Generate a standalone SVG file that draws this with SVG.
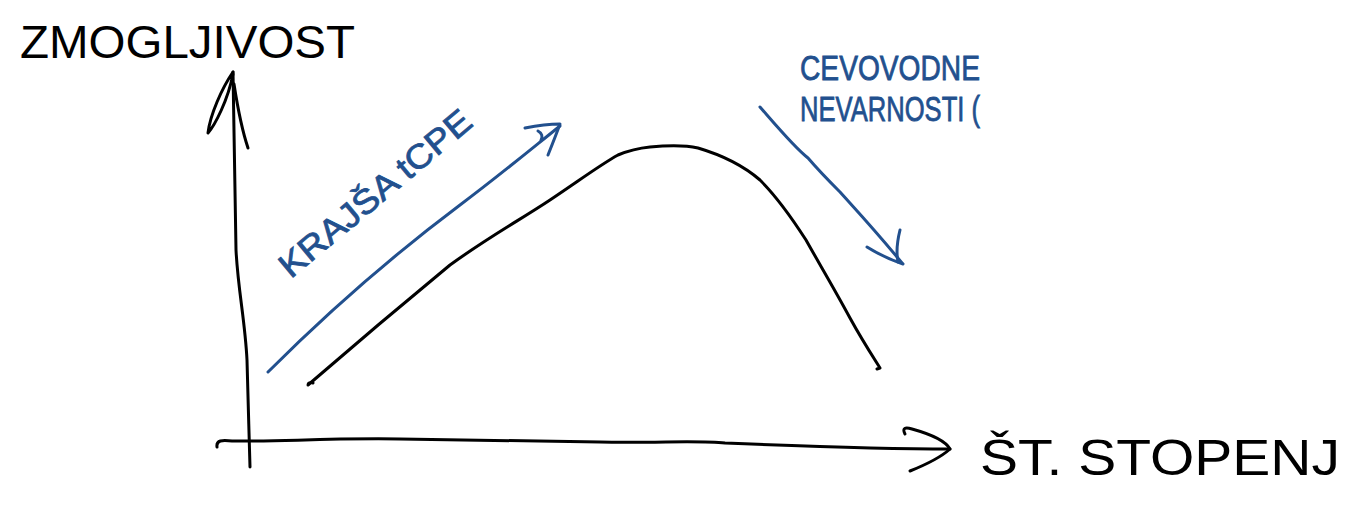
<svg xmlns="http://www.w3.org/2000/svg" width="1360" height="510" viewBox="0 0 1360 510">
<style>
.ink{fill:none;stroke:#000;stroke-width:3;stroke-linecap:round;stroke-linejoin:round}
.blue{fill:none;stroke:#22508e;stroke-width:3;stroke-linecap:round;stroke-linejoin:round}
.tb{font-family:"Liberation Sans",Arial,sans-serif;fill:#000}
.tblue{font-family:"Liberation Sans",Arial,sans-serif;fill:#22508e;stroke:#22508e;stroke-width:0.8}
</style>
<rect width="1360" height="510" fill="#fff"/>
<g id="connectors">
<g id="y-axis">
<path class="ink" d="M250,467 C249,430 248,400 247,360 C245,320 238,290 236,250 C235,200 234,140 233,72"/>
<path class="ink" d="M233,72 C222,88 210,115 208,133 C215,125 228,100 233,74"/>
<path class="ink" d="M234,84 C238,110 242,130 248,148"/>
</g>
<g id="x-axis">
<path class="ink" d="M217,447 C216,440 222,440 232,441 C280,442 320,438 400,439 C500,441 560,441 600,442 C660,443 700,440 725,443 C800,446 880,449 950,449"/>
<path class="ink" d="M905,434 C902,428 905,427 912,429 C930,434 945,440 950,449 C940,458 925,465 910,471"/>
</g>
<g id="curve">
<path class="ink" d="M313,383 C310,382 308,383 308,385 C360,340 410,298 450,265 C490,236 520,220 550,200 C580,180 600,165 618,155 C630,150 640,148 650,147 C670,145 685,145 698,148 C725,156 745,167 760,180 C775,195 790,215 806,240 C820,265 835,290 850,318 C862,340 875,360 880,368 L877,369"/>
</g>
<g id="arrow-left">
<path class="blue" d="M268,372 C330,310 400,250 460,205 C500,175 530,150 560,126"/>
<path class="blue" d="M525,128 C535,126 548,124 560,124 C556,135 552,145 548,155"/>
<path class="blue" d="M538,131 C542,133 543,137 541,140"/>
</g>
<g id="arrow-right">
<path class="blue" d="M760,107 C780,130 795,148 808,158 C820,172 830,182 840,192 C858,212 875,230 902,263"/>
<path class="blue" d="M867,247 C875,252 885,258 903,264"/>
<path class="blue" d="M900,230 C897,242 896,252 898,262"/>
</g>
</g>
<g id="label-y">
<text class="tb" x="20" y="58" font-size="46" textLength="335" lengthAdjust="spacingAndGlyphs">ZMOGLJIVOST</text>
</g>
<g id="label-x">
<text class="tb" x="980" y="475" font-size="50" textLength="360" lengthAdjust="spacingAndGlyphs">ŠT. STOPENJ</text>
</g>
<g id="label-hazards">
<text class="tblue" x="800" y="80" font-size="35" textLength="180" lengthAdjust="spacingAndGlyphs">CEVOVODNE</text>
<text class="tblue" x="800" y="121" font-size="35" textLength="180" lengthAdjust="spacingAndGlyphs">NEVARNOSTI (</text>
</g>
<g id="label-clock">
<text class="tblue" x="375" y="193" font-size="34" text-anchor="middle" dominant-baseline="central" textLength="240" lengthAdjust="spacingAndGlyphs" transform="rotate(-40 375 193)">KRAJŠA tCPE</text>
</g>
</svg>
